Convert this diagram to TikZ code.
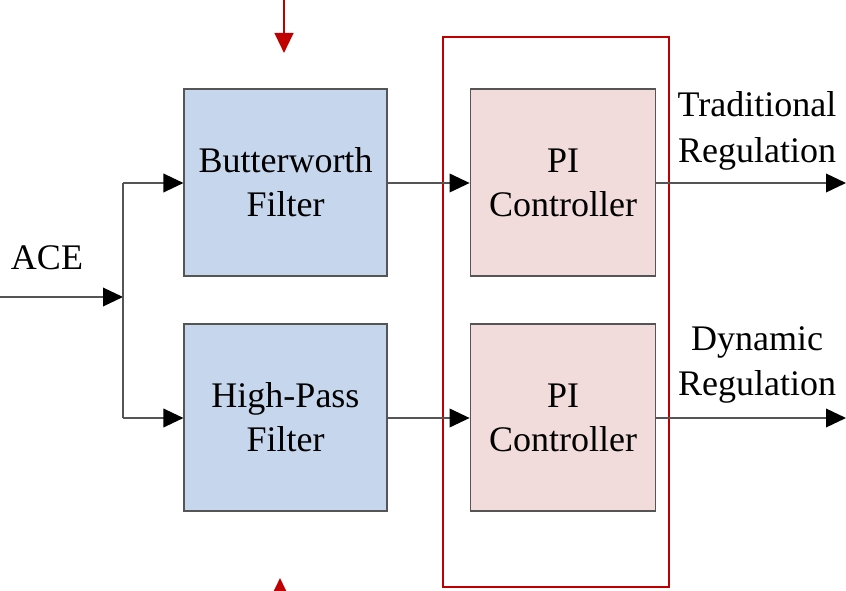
\documentclass[tikz,border=0pt]{standalone}
\usepackage{fontspec}
\setmainfont{Liberation Serif}
\usetikzlibrary{arrows.meta}
\definecolor{boxblue}{HTML}{C6D6EC}
\definecolor{boxpink}{HTML}{F2DCDB}
\definecolor{edgegray}{HTML}{555555}
\definecolor{redline}{HTML}{C00000}
\begin{document}
\begin{tikzpicture}[x=0.75pt,y=-0.75pt,
  blk/.style={draw=edgegray,line width=1.1pt,minimum width=152pt,minimum height=140pt,inner sep=0pt,align=center,font=\fontsize{27}{33}\selectfont},
  filt/.style={blk,fill=boxblue},
  ctrl/.style={blk,fill=boxpink,minimum width=139pt},
  conn/.style={draw=edgegray,line width=1.1pt,-{Triangle[length=15pt,width=14pt,color=black,fill=black]}},
  lbl/.style={font=\fontsize{27}{34}\selectfont,align=center,inner sep=0pt},
  redarr/.style={draw=redline,line width=1.6pt,-{Triangle[length=15pt,width=14pt,fill=redline]}}
]
\useasboundingbox (0,0) rectangle (846,591);
\clip (0,0) rectangle (846,591);
\node[filt] (bw) at (285.5,182.5) {Butterworth\\Filter};
\node[filt] (hp) at (285.5,417.5) {High-Pass\\Filter};
\node[ctrl] (pi1) at (563,182.5) {PI\\Controller};
\node[ctrl] (pi2) at (563,417.5) {PI\\Controller};
\node[draw=redline,line width=1.5pt,minimum width=169.5pt,minimum height=412.5pt,inner sep=0pt] (red) at (556,312) {};
\coordinate (in) at (0,297);
\coordinate (j) at (123,297);
\coordinate (jt) at (123,183);
\coordinate (jb) at (123,418);
\coordinate (o1) at (846,183);
\coordinate (o2) at (846,418);
\coordinate (rt0) at (284,0);
\coordinate (rt1) at (284,53);
\coordinate (rb0) at (280,640);
\coordinate (rb1) at (280,578);
\draw[conn] (in) -- (j);
\draw[draw=edgegray,line width=1.1pt] (jt) -- (jb);
\draw[conn] (jt) -- (bw.west |- jt);
\draw[conn] (jb) -- (hp.west |- jb);
\draw[conn] (bw.east |- jt) -- (pi1.west |- jt);
\draw[conn] (hp.east |- jb) -- (pi2.west |- jb);
\draw[conn] (pi1.east |- o1) -- (o1);
\draw[conn] (pi2.east |- o2) -- (o2);
\draw[redarr] (rt0) -- (rt1);
\draw[redarr] (rb0) -- (rb1);
\node[lbl] (ace) at (47,258) {ACE};
\node[lbl] (t1) at (757,131) {Traditional\\Regulation};
\node[lbl] (t2) at (757,365) {Dynamic\\Regulation};
\end{tikzpicture}
\end{document}
